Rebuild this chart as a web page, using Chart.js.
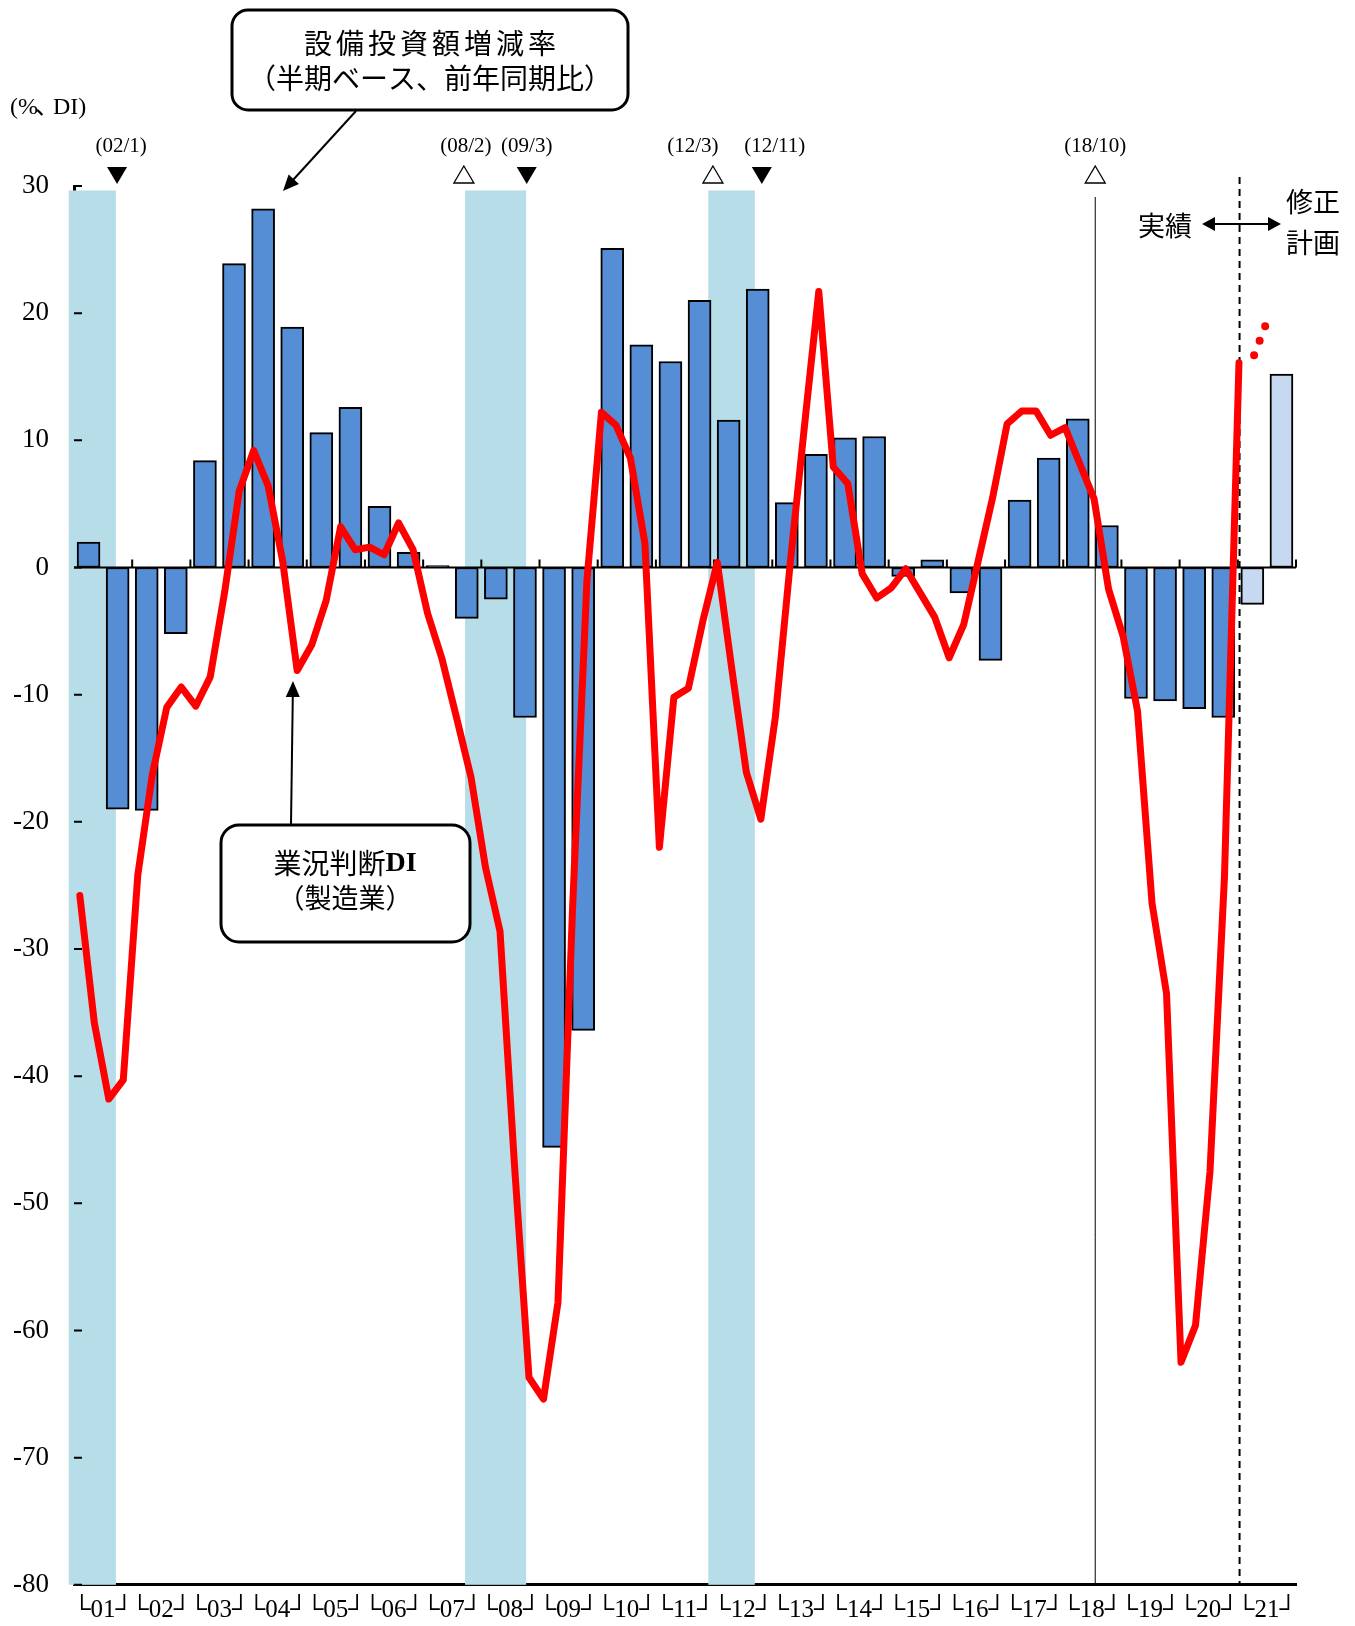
<!DOCTYPE html>
<html lang="ja">
<head>
<meta charset="utf-8">
<title>設備投資額増減率と業況判断DI</title>
<script src="https://cdn.jsdelivr.net/npm/chart.js@4.4.1/dist/chart.umd.min.js"></script>
<style>
    html, body { margin: 0; padding: 0; background: #fff; }
    #wrap { width: 1355px; height: 1626px; }
</style>
</head>
<body>
<div id="wrap"><canvas id="chart" width="1355" height="1626"></canvas></div>
<script>
// 年度ラベル（横軸）
const fiscalYears = ['01', '02', '03', '04', '05', '06', '07', '08', '09', '10', '11',
    '12', '13', '14', '15', '16', '17', '18', '19', '20', '21'];

// 設備投資額増減率（半期ベース、前年同期比、%）上期・下期の順
const capexChange = [
    2.0, -19.0,   -19.1, -5.2,   8.4, 23.9,   28.2, 18.9,   10.6, 12.6,
    4.8, 1.2,     0.15, -4.0,    -2.5, -11.8, -45.6, -36.4, 25.1, 17.5,
    16.2, 21.0,   11.6, 21.9,    5.1, 8.9,    10.2, 10.3,   -0.7, 0.6,
    -2.0, -7.3,   5.3, 8.6,      11.7, 3.3,   -10.3, -10.5, -11.1, -11.8,
    -2.9, 15.2
];
const planFromIndex = 40; // 21年度は修正計画

// 業況判断DI（製造業）四半期
const diManufacturing = [
    -25.8, -35.8, -41.8, -40.3,
    -24.2, -16.3, -11.0, -9.4,
    -10.9, -8.6, -1.9, 6.0,
    9.2, 6.4, 0.5, -8.1,
    -6.1, -2.6, 3.2, 1.4,
    1.6, 1.0, 3.5, 1.4,
    -3.6, -7.2, -11.8, -16.5,
    -23.6, -28.6, -47.0, -63.7,
    -65.4, -57.8, -27.0, -1.0,
    12.2, 11.2, 8.6, 1.9,
    -22.0, -10.2, -9.5, -4.2,
    0.4, -8.0, -16.1, -19.8,
    -11.8, 0.0, 11.0, 21.7,
    7.9, 6.6, -0.5, -2.4,
    -1.6, -0.1, -2.0, -3.9,
    -7.1, -4.5, 0.5, 5.5,
    11.3, 12.3, 12.3, 10.4,
    11.0, 8.2, 5.4, -1.7,
    -5.4, -11.3, -26.4, -33.5,
    -62.5, -59.6, -47.5, -24.3,
    16.1
];

// 先行き（点線）
const diOutlookX = [20.28, 20.48];
const diOutlook = [16.7, 19.1];

// 景気の山・谷
const turnLabels = ['(02/1)', '(08/2)', '(09/3)', '(12/3)', '(12/11)', '(18/10)'];
const turnX = [0.74, 6.70, 7.78, 10.98, 11.82, 17.55];
const turnKind = ['trough', 'peak', 'trough', 'peak', 'trough', 'peak'];

// 後退期（シャドー）
const recessionStart = [-0.09, 6.72, 10.9];
const recessionEnd = [0.72, 7.77, 11.7];

const planBoundary = 20.03; // 実績 / 修正計画 の境目

const BLUE = '#558ED5';
const LIGHT_BLUE = '#C6D9F1';
const SHADE = '#B7DDE8';
const RED = '#FF0000';
const SERIF = '"Liberation Serif", "Noto Sans CJK JP", serif';
const CJK = '"Noto Sans CJK JP", sans-serif';

const barData = capexChange.map((v, i) => ({ x: i * 0.5 + 0.25, y: v }));
const lineData = diManufacturing.map((v, i) => ({ x: 0.1 + i * 0.249, y: v }));
const outlookData = diOutlook.map((v, i) => ({ x: diOutlookX[i], y: v }));

function arrow(ctx, x1, y1, x2, y2, head, half) {
    const a = Math.atan2(y2 - y1, x2 - x1);
    ctx.beginPath();
    ctx.moveTo(x1, y1);
    ctx.lineTo(x2 - Math.cos(a) * head * 0.8, y2 - Math.sin(a) * head * 0.8);
    ctx.stroke();
    ctx.beginPath();
    ctx.moveTo(x2, y2);
    ctx.lineTo(x2 - Math.cos(a) * head + Math.sin(a) * half, y2 - Math.sin(a) * head - Math.cos(a) * half);
    ctx.lineTo(x2 - Math.cos(a) * head - Math.sin(a) * half, y2 - Math.sin(a) * head + Math.cos(a) * half);
    ctx.closePath();
    ctx.fill();
}

const decorations = {
    id: 'decorations',
    beforeDatasetsDraw(chart) {
        const { ctx, chartArea } = chart;
        const xs = chart.scales.x, ys = chart.scales.y;
        ctx.save();
        // 後退期シャドー
        ctx.fillStyle = SHADE;
        const top = ys.getPixelForValue(29.65);
        recessionStart.forEach((s, i) => {
            const x1 = xs.getPixelForValue(s), x2 = xs.getPixelForValue(recessionEnd[i]);
            ctx.fillRect(x1, top, x2 - x1, chartArea.bottom - top);
        });
        // 18/10 の縦線
        const xPeak = xs.getPixelForValue(turnX[5]);
        ctx.strokeStyle = '#000';
        ctx.lineWidth = 1;
        ctx.beginPath();
        ctx.moveTo(xPeak, 197);
        ctx.lineTo(xPeak, chartArea.bottom);
        ctx.stroke();
        // 実績／計画の境界（破線）
        const xb = xs.getPixelForValue(planBoundary);
        ctx.lineWidth = 2;
        ctx.setLineDash([7, 5]);
        ctx.beginPath();
        ctx.moveTo(xb, 177);
        ctx.lineTo(xb, chartArea.bottom);
        ctx.stroke();
        ctx.restore();
    },
    afterDatasetDraw(chart, args) {
        if (args.meta.type !== 'bar') return;
        const { ctx, chartArea } = chart;
        const xs = chart.scales.x, ys = chart.scales.y;
        const y0 = ys.getPixelForValue(0);
        ctx.save();
        ctx.strokeStyle = '#000';
        ctx.lineWidth = 2;
        ctx.beginPath();
        ctx.moveTo(chartArea.left, y0);
        ctx.lineTo(chartArea.right, y0);
        for (let k = 1; k <= fiscalYears.length; k++) {
            const x = xs.getPixelForValue(k);
            ctx.moveTo(x, y0);
            ctx.lineTo(x, y0 - 8);
        }
        ctx.stroke();
        ctx.restore();
    },
    afterDraw(chart) {
        const { ctx, chartArea } = chart;
        const xs = chart.scales.x, ys = chart.scales.y;
        ctx.save();
        ctx.strokeStyle = '#000';
        ctx.fillStyle = '#000';

        // 縦軸の内向き目盛
        ctx.lineWidth = 2;
        ctx.beginPath();
        ys.ticks.forEach(t => {
            const y = ys.getPixelForValue(t.value);
            ctx.moveTo(chartArea.left, y);
            ctx.lineTo(chartArea.left + 8, y);
        });
        ctx.stroke();

        // 単位
        ctx.font = '24px ' + SERIF;
        ctx.textAlign = 'left';
        ctx.textBaseline = 'middle';
        ctx.fillText('(%', 10, 108);
        const wPct = ctx.measureText('(%').width;
        ctx.fillText('、', 10 + wPct - 3, 108);
        ctx.fillText('DI)', 10 + wPct + 15, 108);

        // 山・谷の記号とラベル
        const labelShift = [4, 2, 0, -20, 13, 0];
        turnX.forEach((v, i) => {
            const x = xs.getPixelForValue(v);
            const cy = 175;
            ctx.beginPath();
            if (turnKind[i] === 'trough') {
                ctx.moveTo(x - 10, cy - 8);
                ctx.lineTo(x + 10, cy - 8);
                ctx.lineTo(x, cy + 9);
                ctx.closePath();
                ctx.fillStyle = '#000';
                ctx.fill();
            } else {
                ctx.moveTo(x, cy - 9);
                ctx.lineTo(x + 10, cy + 8);
                ctx.lineTo(x - 10, cy + 8);
                ctx.closePath();
                ctx.fillStyle = '#fff';
                ctx.fill();
                ctx.lineWidth = 1.3;
                ctx.stroke();
            }
            ctx.fillStyle = '#000';
            ctx.font = '21px ' + SERIF;
            ctx.textAlign = 'center';
            ctx.fillText(turnLabels[i], x + labelShift[i], 146);
        });

        // 設備投資額増減率の吹き出し
        ctx.lineWidth = 3;
        ctx.fillStyle = '#fff';
        ctx.beginPath();
        ctx.roundRect(232, 10, 396, 100, 16);
        ctx.fill();
        ctx.stroke();
        ctx.fillStyle = '#000';
        ctx.font = '28px ' + CJK;
        ctx.textAlign = 'center';
        ctx.letterSpacing = '4px';
        ctx.fillText('設備投資額増減率', 432, 43);
        ctx.letterSpacing = '0px';
        ctx.fillText('（半期ベース、前年同期比）', 430, 78);
        ctx.lineWidth = 2;
        arrow(ctx, 356, 111, 283, 191, 16, 7);

        // 業況判断DIの吹き出し
        ctx.lineWidth = 3;
        ctx.fillStyle = '#fff';
        ctx.beginPath();
        ctx.roundRect(221, 825, 249, 117, 18);
        ctx.fill();
        ctx.stroke();
        ctx.fillStyle = '#000';
        ctx.font = '28px ' + CJK;
        const w1 = ctx.measureText('業況判断').width;
        ctx.font = 'bold 28px ' + SERIF;
        const w2 = ctx.measureText('DI').width;
        const sx = 345 - (w1 + w2) / 2;
        ctx.textAlign = 'left';
        ctx.font = '28px ' + CJK;
        ctx.fillText('業況判断', sx, 863);
        ctx.font = 'bold 28px ' + SERIF;
        ctx.fillText('DI', sx + w1, 864);
        ctx.textAlign = 'center';
        ctx.font = '27px ' + CJK;
        ctx.fillText('（製造業）', 345, 898);
        ctx.lineWidth = 2;
        arrow(ctx, 291, 825, 293, 681, 16, 7);

        // 実績 ⟷ 修正計画
        ctx.font = '27px ' + CJK;
        ctx.fillText('実績', 1165, 226);
        ctx.fillText('修正', 1313, 202);
        ctx.fillText('計画', 1313, 243);
        ctx.lineWidth = 2;
        arrow(ctx, 1241, 224, 1202, 224, 13, 7);
        arrow(ctx, 1239, 224, 1281, 224, 13, 7);
        ctx.restore();
    }
};

new Chart(document.getElementById('chart'), {
    type: 'bar',
    data: {
        datasets: [
            {
                type: 'line',
                label: '業況判断DI（製造業）',
                data: lineData,
                borderColor: RED,
                borderWidth: 7,
                pointRadius: 0,
                tension: 0,
                borderJoinStyle: 'round',
                borderCapStyle: 'round',
                order: 0
            },
            {
                type: 'line',
                label: '先行き',
                data: outlookData,
                borderColor: RED,
                borderWidth: 8,
                borderDash: [0, 15.5],
                borderCapStyle: 'round',
                pointRadius: 0,
                order: 0
            },
            {
                type: 'bar',
                label: '設備投資額増減率',
                data: barData,
                backgroundColor: capexChange.map((v, i) => i >= planFromIndex ? LIGHT_BLUE : BLUE),
                borderColor: '#000',
                borderWidth: 2,
                borderSkipped: false,
                barThickness: 23,
                order: 1
            }
        ]
    },
    options: {
        responsive: false,
        animation: false,
        layout: { padding: { top: 186, right: 59, left: 0, bottom: 0 } },
        plugins: {
            legend: { display: false },
            tooltip: { enabled: false }
        },
        scales: {
            x: {
                type: 'linear',
                offset: false,
                min: 0,
                max: 21,
                grid: { display: false, drawTicks: false },
                border: { display: true, color: '#000', width: 3 },
                afterBuildTicks: axis => {
                    axis.ticks = fiscalYears.map((_, k) => ({ value: k + 0.5 }));
                },
                afterFit: axis => { axis.height = 39; },
                ticks: {
                    autoSkip: false,
                    maxRotation: 0,
                    padding: 11,
                    color: '#000',
                    font: { family: '"Liberation Serif", "DejaVu Sans"', size: 25 },
                    callback: (value, index) => '└' + fiscalYears[index] + '┘'
                }
            },
            y: {
                min: -80,
                max: 30,
                grid: { display: false, drawTicks: false },
                border: { display: true, color: '#000', width: 3 },
                afterFit: axis => { axis.width = 74; },
                ticks: {
                    stepSize: 10,
                    padding: 25,
                    color: '#000',
                    font: { family: 'Liberation Serif', size: 27 }
                }
            }
        }
    },
    plugins: [decorations]
});
</script>
</body>
</html>
